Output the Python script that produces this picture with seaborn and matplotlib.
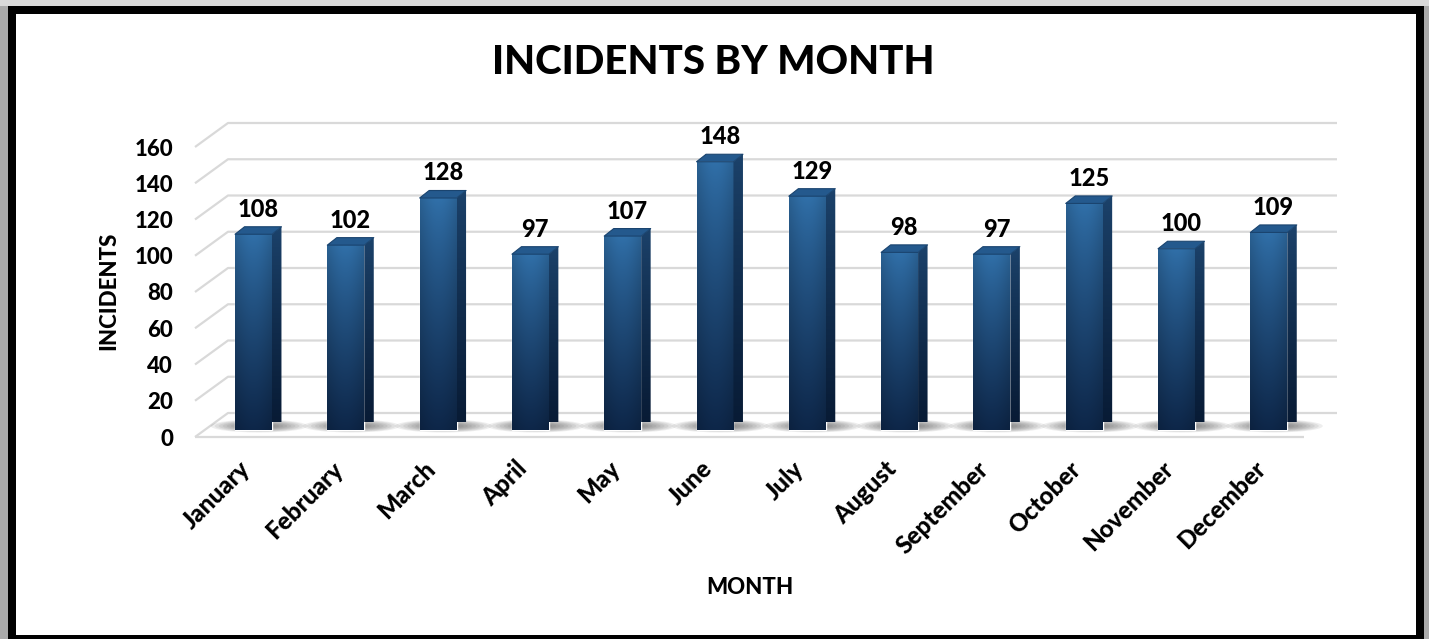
import numpy as np
import pandas as pd
import matplotlib
matplotlib.use("Agg")
import matplotlib.pyplot as plt
import seaborn as sns
from matplotlib.patches import Polygon, Rectangle, Ellipse
from matplotlib.transforms import ScaledTranslation

# ---- data ----
months = ["January", "February", "March", "April", "May", "June",
          "July", "August", "September", "October", "November", "December"]
incidents = [108, 102, 128, 97, 107, 148, 129, 98, 97, 125, 100, 109]
y_ticks = [0, 20, 40, 60, 80, 100, 120, 140, 160]

# ---- canvas / layout (pixels, origin top-left) ----
W, H = 1429, 639
DPI = 100
AX_L, AX_R, AX_T, AX_B = 195, 1340, 100, 437
CAT_PX = 92.3          # pixels between category centres
FIRST_PX = 253.5       # pixel x of first category centre
VAL_PX = 1.8125        # pixels per incident
ZERO_PX = 430          # pixel y of value 0 on the bar plane

# depth offsets of the 3-D box (pixels, relative to the bar plane)
FRONT_DX, FRONT_DY = -9.6, 7.0
BACK_DX, BACK_DY = 23.4, -17.0
BAR_DX, BAR_DY = 9.5, -7.5
BAR_WIDTH = 0.4

ux = lambda px: px / CAT_PX
uy = lambda px: -px / VAL_PX

sns.set_theme(style="white")
plt.rcParams["font.family"] = ["Lato", "DejaVu Sans"]
plt.rcParams["font.weight"] = "black"
plt.rcParams["text.color"] = "black"
WEIGHT = "black"

fig = plt.figure(figsize=(W / DPI, H / DPI), dpi=DPI, facecolor="#a9a9a9")


def frame_rect(x0, y0, x1, y1, color):
    fig.add_artist(Rectangle((x0 / W, 1 - y1 / H), (x1 - x0) / W, (y1 - y0) / H,
                             transform=fig.transFigure, color=color, lw=0, zorder=-10))


frame_rect(0, 0, W, 6, "#d9d9d9")
frame_rect(8, 6, 1424, H, "black")
frame_rect(16, 14, 1416, 635, "white")

ax = fig.add_axes([AX_L / W, 1 - AX_B / H, (AX_R - AX_L) / W, (AX_B - AX_T) / H])
ax.set_zorder(2)
ax.set_facecolor("none")

df = pd.DataFrame({"month": months, "incidents": incidents})
sns.barplot(data=df, x="month", y="incidents", width=BAR_WIDTH, color="#1f4e80",
            saturation=1, ax=ax, zorder=4)

xlim = ((AX_L - FIRST_PX) / CAT_PX, (AX_R - FIRST_PX) / CAT_PX)
ylim = ((ZERO_PX - AX_B) / VAL_PX, (ZERO_PX - AX_T) / VAL_PX)

# ---- walls / gridlines ----
grid_kw = dict(color="#d9d9d9", lw=1.6, solid_capstyle="butt", zorder=1, clip_on=False)
front_left = xlim[0]
back_left = front_left + ux(BACK_DX - FRONT_DX)
back_right = xlim[1] - ux(AX_R - 1337)
front_right = back_right - ux(BACK_DX - FRONT_DX)
for v in y_ticks:
    ax.plot([front_left, back_left, back_right],
            [v + uy(FRONT_DY), v + uy(BACK_DY), v + uy(BACK_DY)], **grid_kw)
ax.plot([front_left, front_right], [uy(FRONT_DY)] * 2, **grid_kw)

# ---- bar faces ----
front_top = np.array([0x2f, 0x6c, 0xa3]) / 255
front_bot = np.array([0x0d, 0x25, 0x46]) / 255
side_top = np.array([0x1c, 0x43, 0x6c]) / 255
side_bot = np.array([0x08, 0x1b, 0x35]) / 255


def gradient(top, bot, shade=True):
    t = np.linspace(0, 1, 200)[:, None, None] ** 0.85
    img = top * (1 - t) + bot * t
    img = np.repeat(img, 40, axis=1)
    if shade:
        u = np.linspace(0, 1, 40)
        img = img * (0.9 + 0.14 * np.sin(np.pi * u))[None, :, None]
    return np.clip(img, 0, 1)


front_img = gradient(front_top, front_bot)
side_img = gradient(side_top, side_bot, shade=False)

dx, dy = ux(BAR_DX), uy(BAR_DY)
shadow_steps = np.linspace(1.0, 0.25, 10)
for patch, v in zip(list(ax.patches), incidents):
    x0, w, h = patch.get_x(), patch.get_width(), patch.get_height()
    xc = x0 + w / 2
    # soft floor shadow: stacked translucent ellipses
    for s in shadow_steps:
        ax.add_patch(Ellipse((xc + 0.06, uy(-4)), width=1.05 * s, height=uy(-13) * s,
                             facecolor="#444444", edgecolor="none", alpha=0.085,
                             zorder=2, clip_on=False))
    im = ax.imshow(front_img, extent=[x0, x0 + w, 0, h], aspect="auto",
                   zorder=4.1, interpolation="bilinear")
    im.set_clip_path(patch)
    side = Polygon([(x0 + w, 0), (x0 + w + dx, dy), (x0 + w + dx, h + dy), (x0 + w, h)],
                   closed=True, facecolor="none", edgecolor="none", zorder=4)
    ax.add_patch(side)
    sim = ax.imshow(side_img, extent=[x0 + w, x0 + w + dx, dy, h + dy], aspect="auto",
                    zorder=4.1, interpolation="bilinear")
    sim.set_clip_path(side)
    ax.add_patch(Polygon([(x0, h), (x0 + w, h), (x0 + w + dx, h + dy), (x0 + dx, h + dy)],
                         closed=True, facecolor="#24598d", edgecolor="#1a446f",
                         lw=0.8, joinstyle="round", zorder=4.2))
    ax.annotate(f"{v}", xy=(xc + dx / 2, h + dy), xytext=(0, 10),
                textcoords="offset pixels", ha="center", va="baseline",
                fontsize=17, fontweight=WEIGHT, color="black", zorder=5)

ax.set_xlim(*xlim)
ax.set_ylim(*ylim)

# ---- axes decoration ----
for s in ax.spines.values():
    s.set_visible(False)
ax.grid(False)
ax.set_xlabel("")
ax.set_ylabel("")
ax.set_yticks([v + uy(FRONT_DY) for v in y_ticks])
ax.set_yticklabels([str(v) for v in y_ticks], fontsize=16, fontweight=WEIGHT, color="black")
ax.tick_params(axis="y", length=0, pad=22 * 72 / DPI)
ax.set_xticks(range(len(months)))
ax.set_xticklabels(months, rotation=45, ha="right", rotation_mode="anchor",
                   fontsize=17.5, fontweight=WEIGHT, color="black")
ax.tick_params(axis="x", length=0, pad=20 * 72 / DPI)
shift = ScaledTranslation(-15 / DPI, 0, fig.dpi_scale_trans)
for lab in ax.get_xticklabels():
    lab.set_transform(lab.get_transform() + shift)

fig.text(713 / W, 1 - 62 / H, "INCIDENTS BY MONTH", ha="center", va="center",
         fontsize=29, fontweight=WEIGHT, color="black")
fig.text(109 / W, 1 - 291 / H, "INCIDENTS", rotation=90, ha="center", va="center",
         fontsize=16, fontweight=WEIGHT, color="black")
fig.text(750 / W, 1 - 588 / H, "MONTH", ha="center", va="center",
         fontsize=16, fontweight=WEIGHT, color="black")

fig.savefig("out.png", dpi=DPI, facecolor=fig.get_facecolor())
